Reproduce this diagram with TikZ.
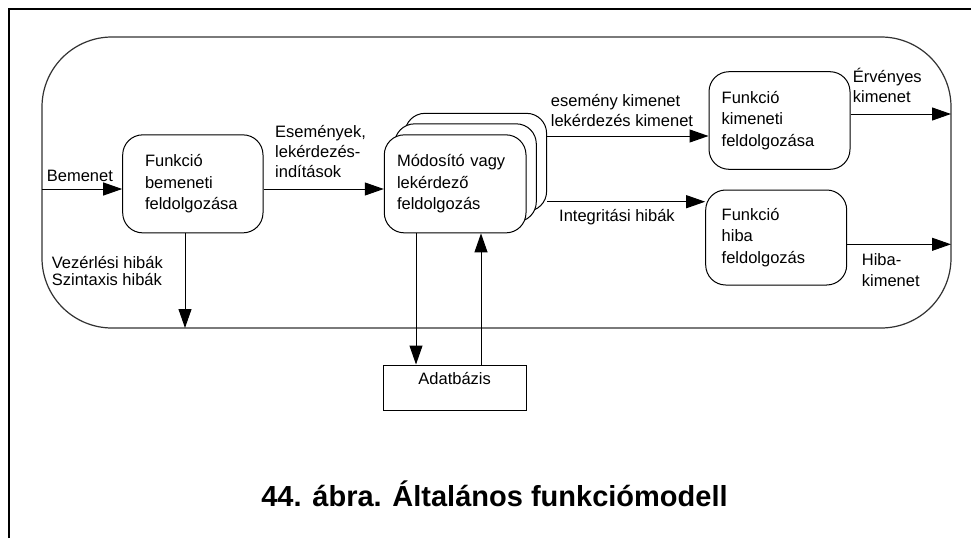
\documentclass[tikz,border=0pt]{standalone}
\usepackage{fontspec}
\setmainfont{Liberation Sans}
\usetikzlibrary{arrows.meta,positioning,backgrounds}
\definecolor{outergray}{RGB}{50,50,50}

\begin{document}
\begin{tikzpicture}[x=1pt, y=-1pt,
  fbox/.style={draw=black, line width=1pt, fill=white, rounded corners=20pt, align=left, font=\fontsize{16.5}{21.5}\selectfont, inner ysep=0pt, minimum height=98pt},
  arr/.style={-{Triangle[length=19pt, width=13pt]}, line width=1pt},
  lbl/.style={align=left, inner sep=0pt, anchor=west, font=\fontsize{16.5}{20}\selectfont}]
  \useasboundingbox (0,0) rectangle (971,538);
  % page frame
  \draw[line width=2pt] (8.5,538) -- (8.5,9) -- (971,9);
  % system boundary
  \draw[outergray, line width=1.2pt, rounded corners=70pt] (42,37) rectangle (951,328);

  % processes
  \node[fbox, text width=95.7pt, inner xsep=22.3pt] (bemfeld) at (192.85,183.85) {Funkció\\bemeneti\\feldolgozása};
  \node[fbox, text width=116.3pt, inner xsep=12.7pt, right=120.3pt of bemfeld] (modfeld) {Módosító vagy\\lekérdező\\feldolgozás};
  \begin{scope}[on background layer]
    \node[fbox, text width=116.3pt, inner xsep=12.7pt] (mod3) at ([shift={(20.6,-21.5)}]modfeld.center) {};
    \node[fbox, text width=116.3pt, inner xsep=12.7pt] (mod2) at ([shift={(10.3,-11)}]modfeld.center) {};
  \end{scope}
  \node[fbox, text width=115.6pt, inner xsep=12.7pt, minimum height=97.6pt] (kimfeld) at (779.5,120.5) {Funkció\\kimeneti\\feldolgozása};
  \node[fbox, text width=109pt, inner xsep=16pt, minimum height=95pt] (hibfeld) at (776.2,237.5) {Funkció\\hiba\\feldolgozás};
  \node[draw, line width=1pt, minimum width=142.7pt, minimum height=45pt, text height=12pt, text depth=18pt, inner sep=0pt, font=\fontsize{16.5}{20}\selectfont] (adatb) at (454.65,387.5) {Adatbázis};

  % connectors
  \coordinate (bein) at (42,189);
  \coordinate (hibaki) at (185,328);
  \coordinate (dble) at (416,0);
  \coordinate (dbfel) at (481,0);
  \coordinate (esk) at (0,136);
  \coordinate (intk) at (0,201.7);
  \coordinate (ervk) at (951,114);
  \coordinate (hibk) at (951,244.3);
  \draw[arr] (bein) -- (bein -| bemfeld.west);
  \draw[arr] (bemfeld.east |- bein) -- (modfeld.west |- bein);
  \draw[arr] (bemfeld.south -| hibaki) -- (hibaki);
  \draw[arr] (modfeld.south -| dble) -- (adatb.north -| dble);
  \draw[arr] (adatb.north -| dbfel) -- (modfeld.south -| dbfel);
  \draw[arr] (mod3.east |- esk) -- (kimfeld.west |- esk);
  \draw[arr] (mod3.east |- intk) -- (hibfeld.west |- intk);
  \draw[arr] (kimfeld.east |- ervk) -- (ervk);
  \draw[arr] (hibfeld.east |- hibk) -- (hibk);

  % labels
  \node[lbl] (lbemenet) at (46.7,176) {Bemenet};
  \node[lbl, font=\fontsize{16.5}{16.7}\selectfont] (lszint) at (51.7,270.7) {Vezérlési hibák\\Szintaxis hibák};
  \node[lbl] (lesem) at (275,151.5) {Események,\\lekérdezés-\\indítások};
  \node[lbl] (lkim) at (550.7,110.7) {esemény kimenet\\lekérdezés kimenet};
  \node[lbl] (linteg) at (559,216.7) {Integritási hibák};
  \node[lbl] (lerv) at (852.7,85.8) {Érvényes\\kimenet};
  \node[lbl, font=\fontsize{16.5}{21}\selectfont] (lhiba) at (861.7,270.5) {Hiba-\\kimenet};
  \node[font=\bfseries\fontsize{29}{34}\selectfont, anchor=base, inner sep=0pt] (cim) at (494.5,506.7) {44. ábra. Általános funkciómodell};
\end{tikzpicture}
\end{document}
